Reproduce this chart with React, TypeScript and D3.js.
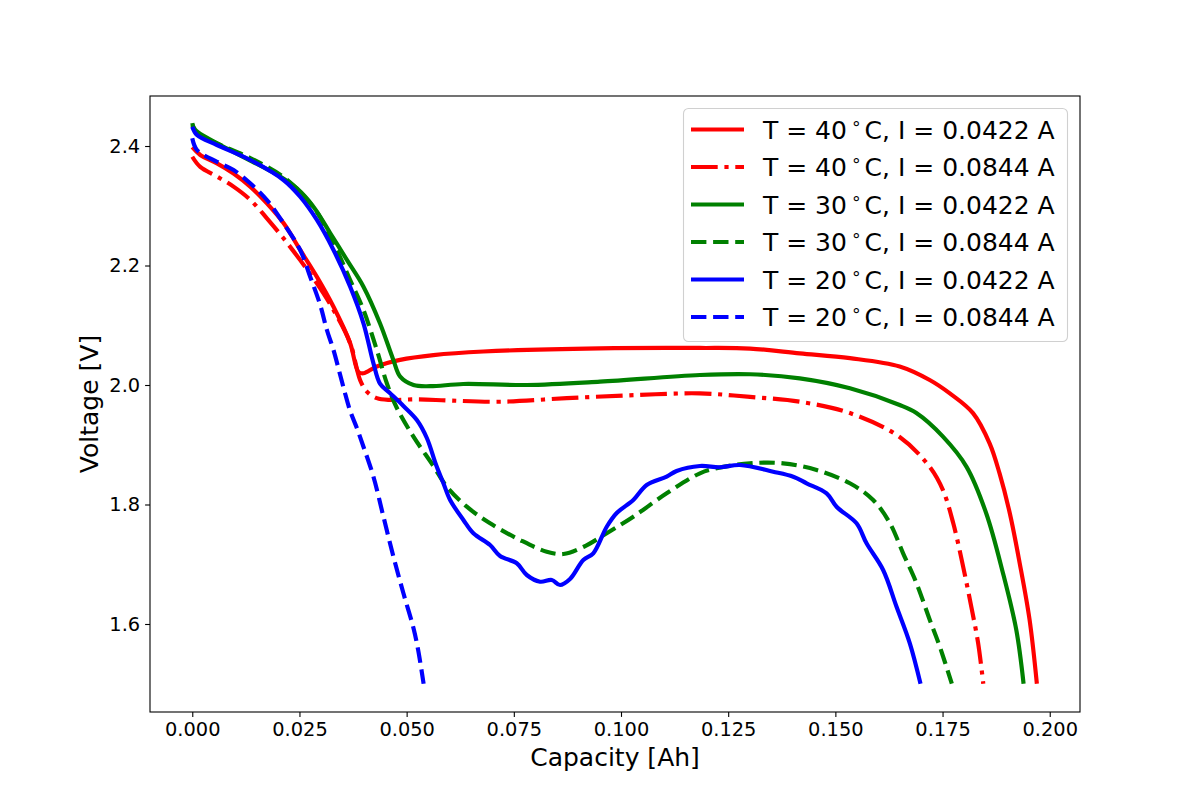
import { useEffect, useRef } from "react";
import * as d3 from "d3";

// ── Data (capacity in Ah, voltage in V) ─────────────────────────────────
const cap40a = [0, 0.00186, 0.00576, 0.00963, 0.01352, 0.01741, 0.02128, 0.02517, 0.02907, 0.03294, 0.03683, 0.03876, 0.03993, 0.04305, 0.04848, 0.05625, 0.0679, 0.0951, 0.1184, 0.1301, 0.1417, 0.1534, 0.165, 0.172, 0.1767, 0.1821, 0.186, 0.1883, 0.1907, 0.193, 0.1953, 0.1970];
const volt40a = [2.398, 2.385, 2.371, 2.354, 2.332, 2.304, 2.271, 2.226, 2.181, 2.131, 2.07, 2.022, 2.0196, 2.031, 2.042, 2.05, 2.056, 2.0614, 2.062, 2.061, 2.053, 2.045, 2.031, 2.0084, 1.986, 1.953, 1.902, 1.852, 1.785, 1.7016, 1.607, 1.5];

const cap40b = [0, 0.00186, 0.00576, 0.00963, 0.01352, 0.01741, 0.02128, 0.02517, 0.02907, 0.03294, 0.03683, 0.03916, 0.04072, 0.04305, 0.04615, 0.05238, 0.06014, 0.0718, 0.08734, 0.1029, 0.1184, 0.1301, 0.1417, 0.1534, 0.165, 0.172, 0.1751, 0.1775, 0.1798, 0.1817, 0.1833, 0.1845];
const volt40b = [2.382, 2.365, 2.349, 2.332, 2.31, 2.279, 2.2455, 2.209, 2.17, 2.1255, 2.07, 2.008, 1.989, 1.978, 1.975, 1.976, 1.974, 1.972, 1.978, 1.983, 1.986, 1.98, 1.972, 1.953, 1.913, 1.863, 1.824, 1.7685, 1.696, 1.629, 1.568, 1.5];

const cap30a = [0, 0.0007, 0.00886, 0.0205, 0.0244, 0.0283, 0.0322, 0.0361, 0.0399, 0.0438, 0.0469, 0.0485, 0.0516, 0.0555, 0.0632, 0.0780, 0.0951, 0.1184, 0.1301, 0.1417, 0.1534, 0.165, 0.1689, 0.1751, 0.1806, 0.1852, 0.1891, 0.1922, 0.1939];
const volt30a = [2.4385, 2.427, 2.393, 2.349, 2.329, 2.298, 2.254, 2.209, 2.165, 2.103, 2.042, 2.014, 2.0, 1.998, 2.0017, 2.0, 2.0056, 2.0167, 2.018, 2.011, 1.9944, 1.9665, 1.953, 1.9135, 1.863, 1.785, 1.685, 1.59, 1.5];

const cap30b = [0, 0.0011, 0.00576, 0.01352, 0.02128, 0.02517, 0.02907, 0.0314, 0.03373, 0.03683, 0.03993, 0.04305, 0.04538, 0.04772, 0.05159, 0.05625, 0.05937, 0.06403, 0.06946, 0.07646, 0.08268, 0.08655, 0.09121, 0.09667, 0.10287, 0.11065, 0.11841, 0.12231, 0.13007, 0.13783, 0.14562, 0.15338, 0.15881, 0.1627, 0.1658, 0.16893, 0.17203, 0.17436, 0.17716];
const volt30b = [2.4351, 2.4218, 2.4042, 2.3799, 2.3481, 2.323, 2.2895, 2.2594, 2.2259, 2.1757, 2.1255, 2.0586, 2.0029, 1.9615, 1.9135, 1.8644, 1.8298, 1.7963, 1.7685, 1.7406, 1.721, 1.7172, 1.7289, 1.7518, 1.7796, 1.8187, 1.8522, 1.8606, 1.8689, 1.8689, 1.8577, 1.8355, 1.8075, 1.769, 1.7183, 1.6681, 1.6067, 1.562, 1.5];

const cap20a = [0, 0.0011, 0.00576, 0.01352, 0.02128, 0.02517, 0.02907, 0.03294, 0.03683, 0.03993, 0.04226, 0.04382, 0.04615, 0.04925, 0.05238, 0.05471, 0.05688, 0.05858, 0.06014, 0.06324, 0.06557, 0.06946, 0.07179, 0.07569, 0.07802, 0.08112, 0.08385, 0.08578, 0.08811, 0.09121, 0.09354, 0.09667, 0.099, 0.10287, 0.10599, 0.11065, 0.11298, 0.11841, 0.12308, 0.12774, 0.1355, 0.14016, 0.14329, 0.14795, 0.15028, 0.15494, 0.15727, 0.16114, 0.16427, 0.16737, 0.16986];
const volt20a = [2.4323, 2.4184, 2.4017, 2.3766, 2.3431, 2.3151, 2.2762, 2.2259, 2.1645, 2.1033, 2.0363, 2.0017, 1.9861, 1.9649, 1.9414, 1.9113, 1.8661, 1.8355, 1.8075, 1.7741, 1.7518, 1.7322, 1.7138, 1.7016, 1.682, 1.6708, 1.6736, 1.6653, 1.6753, 1.7071, 1.7183, 1.7628, 1.7858, 1.8075, 1.8326, 1.8465, 1.8561, 1.8644, 1.8623, 1.8661, 1.8549, 1.8465, 1.8355, 1.8187, 1.7963, 1.7685, 1.735, 1.6904, 1.6289, 1.5677, 1.5];

const cap20b = [0, 0.0011, 0.00576, 0.00963, 0.01352, 0.01741, 0.02128, 0.02517, 0.0275, 0.02984, 0.0314, 0.03294, 0.0345, 0.03543, 0.03683, 0.03839, 0.03993, 0.04226, 0.04459, 0.04692, 0.04925, 0.05159, 0.05268, 0.05396];
const volt20b = [2.4129, 2.3933, 2.3737, 2.3598, 2.3376, 2.3096, 2.2706, 2.2259, 2.1813, 2.1339, 2.0921, 2.0586, 2.0167, 1.9916, 1.9565, 1.928, 1.8967, 1.8465, 1.7796, 1.7126, 1.6514, 1.5933, 1.5565, 1.5];

const seriesLabels = [
  ["40", "0.0422"],
  ["40", "0.0844"],
  ["30", "0.0422"],
  ["30", "0.0844"],
  ["20", "0.0422"],
  ["20", "0.0844"],
];
const seriesColors = ["#ff0000", "#ff0000", "#008000", "#008000", "#0000ff", "#0000ff"];
const seriesDash = ["", "26.7,6.7,4.2,6.7", "", "15.4,6.7", "", "15.4,6.7"];
const seriesCap = [cap40a, cap40b, cap30a, cap30b, cap20a, cap20b];
const seriesVolt = [volt40a, volt40b, volt30a, volt30b, volt20a, volt20b];

const xTicks = [0, 0.025, 0.05, 0.075, 0.1, 0.125, 0.15, 0.175, 0.2];
const yTicks = [1.6, 1.8, 2.0, 2.2, 2.4];

const FONT = "DejaVu Sans, sans-serif";

export default function App() {
  const svgRef = useRef<SVGSVGElement>(null);

  useEffect(() => {
    if (!svgRef.current) return;
    const W = 1200;
    const H = 800;
    const margin = { top: 96, right: 120, bottom: 88, left: 150 };
    const width = W - margin.left - margin.right;
    const height = H - margin.top - margin.bottom;

    const svg = d3.select(svgRef.current);
    svg.selectAll("*").remove();

    svg.append("rect").attr("width", W).attr("height", H).attr("fill", "#fff");

    const g = svg.append("g").attr("transform", `translate(${margin.left},${margin.top})`);

    const xScale = d3.scaleLinear().domain([-0.00986, 0.20706]).range([0, width]);
    const yScale = d3.scaleLinear().domain([1.4527, 2.4837]).range([height, 0]);

    g.append("defs").append("clipPath").attr("id", "plotClip")
      .append("rect").attr("width", width).attr("height", height);

    // ── Curves ─────────────────────────────────────────────────────────────
    const line = d3.line<[number, number]>()
      .x((d) => xScale(d[0]))
      .y((d) => yScale(d[1]))
      .curve(d3.curveCatmullRom.alpha(0.5));

    const plot = g.append("g").attr("clip-path", "url(#plotClip)");
    seriesCap.forEach((caps, i) => {
      const pts = caps.map((c, j) => [c, seriesVolt[i][j]] as [number, number]);
      plot.append("path")
        .datum(pts)
        .attr("fill", "none")
        .attr("stroke", seriesColors[i])
        .attr("stroke-width", 4.17)
        .attr("stroke-linejoin", "round")
        .attr("stroke-dasharray", seriesDash[i] || null)
        .attr("d", line);
    });

    // ── Axes ───────────────────────────────────────────────────────────────
    const xAxis = d3.axisBottom(xScale).tickValues(xTicks).tickFormat(d3.format(".3f")).tickSizeOuter(0).tickSize(4.9).tickPadding(4.9);
    g.append("g")
      .attr("transform", `translate(0,${height})`)
      .call(xAxis)
      .call((ax) => ax.select(".domain").remove())
      .call((ax) => ax.selectAll(".tick line").attr("stroke", "#000").attr("stroke-width", 1.1))
      .call((ax) => ax.selectAll("text").attr("fill", "#000").attr("font-size", 19.4).attr("font-family", FONT));

    const yAxis = d3.axisLeft(yScale).tickValues(yTicks).tickFormat(d3.format(".1f")).tickSizeOuter(0).tickSize(4.9).tickPadding(4.9);
    g.append("g")
      .call(yAxis)
      .call((ax) => ax.select(".domain").remove())
      .call((ax) => ax.selectAll(".tick line").attr("stroke", "#000").attr("stroke-width", 1.1))
      .call((ax) => ax.selectAll("text").attr("fill", "#000").attr("font-size", 19.4).attr("font-family", FONT));

    // frame
    g.append("rect")
      .attr("width", width)
      .attr("height", height)
      .attr("fill", "none")
      .attr("stroke", "#000")
      .attr("stroke-width", 1.1);

    // axis titles
    svg.append("text")
      .attr("x", margin.left + width / 2)
      .attr("y", 766)
      .attr("text-anchor", "middle")
      .attr("font-family", FONT)
      .attr("font-size", 25)
      .text("Capacity [Ah]");

    svg.append("text")
      .attr("transform", `translate(98,${margin.top + height / 2}) rotate(-90)`)
      .attr("text-anchor", "middle")
      .attr("font-family", FONT)
      .attr("font-size", 25)
      .text("Voltage [V]");

    // ── Legend ─────────────────────────────────────────────────────────────
    const legend = svg.append("g");
    legend.append("rect")
      .attr("x", 683.5)
      .attr("y", 108.5)
      .attr("width", 384)
      .attr("height", 233)
      .attr("rx", 5)
      .attr("fill", "rgba(255,255,255,0.8)")
      .attr("stroke", "#d0d0d0")
      .attr("stroke-width", 1.1);

    seriesLabels.forEach(([t, cur], i) => {
      const cy = 129.5 + i * 37.5;
      legend.append("line")
        .attr("x1", 691)
        .attr("x2", 744)
        .attr("y1", cy)
        .attr("y2", cy)
        .attr("stroke", seriesColors[i])
        .attr("stroke-width", 4.17)
        .attr("stroke-dasharray", seriesDash[i] || null);
      const txt = legend.append("text")
        .attr("x", 763)
        .attr("y", cy + 9)
        .attr("font-family", FONT)
        .attr("font-size", 25)
        .attr("fill", "#000");
      txt.append("tspan").text(`T = ${t}`);
      txt.append("tspan").attr("dx", 4).attr("dy", -10).attr("font-size", 17).text("∘");
      txt.append("tspan").attr("dx", 3).attr("dy", 10).text(`C, I = ${cur} A`);
    });
  }, []);

  return (
    <div style={{ position: "absolute", left: 0, top: 0 }}>
      <svg ref={svgRef} width={1200} height={800} />
    </div>
  );
}
